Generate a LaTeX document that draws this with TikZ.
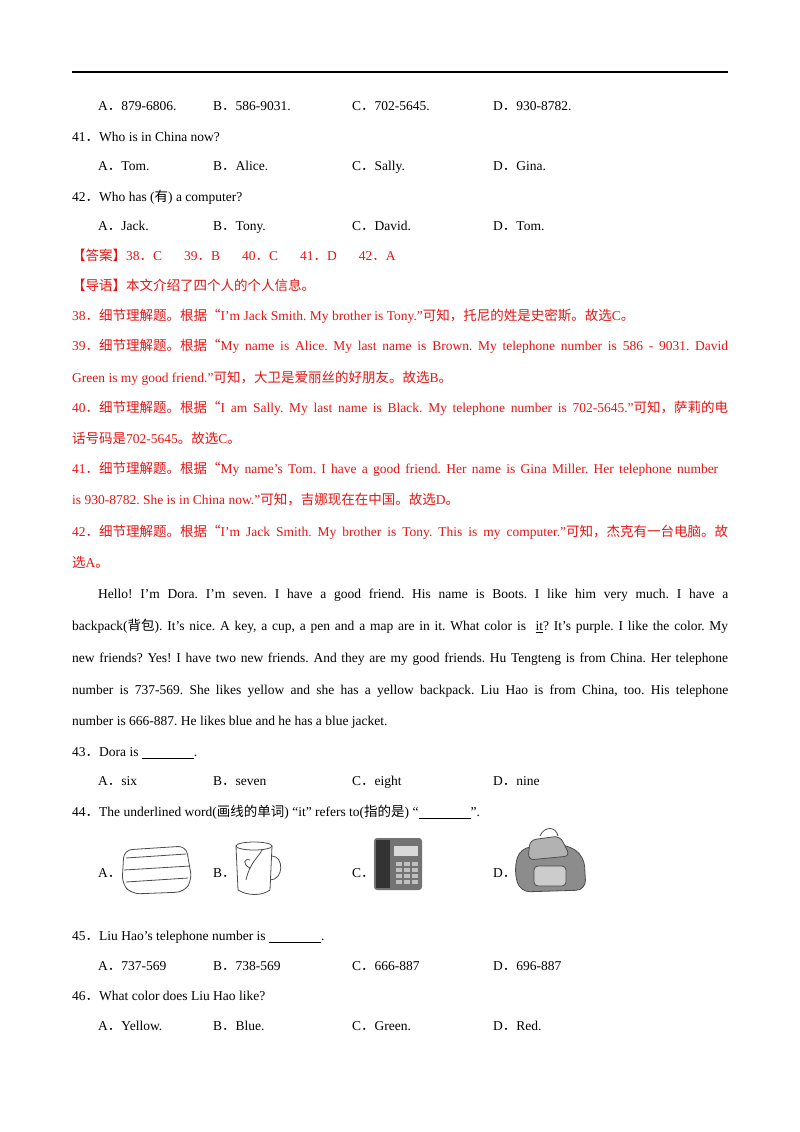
\documentclass[tikz,border=0pt]{standalone}
\usepackage{fontspec}
\setmainfont{Liberation Serif}
\newfontfamily\cjk{Noto Sans CJK SC}
\frenchspacing
\definecolor{ansred}{RGB}{230,20,20}
\newcommand{\dt}{{\cjk ．}}
\newcommand{\jline}[1]{\makebox[656pt][s]{#1}}
\tikzset{
  txt/.style={anchor=base west, inner sep=0pt, yshift=-4.5pt, font=\fontsize{13.5}{16}\selectfont},
  ans/.style={txt, text=ansred},
  pic/.style={line width=0.8pt, draw=black!70}
}
\begin{document}
\begin{tikzpicture}[x=1pt,y=-1pt]
  \useasboundingbox (0,0) rectangle (800,1132);
  \draw[line width=1.6pt] (72,72) -- (728,72);

  % question 40 options
  \node[txt] (o40a) at (98,106) {A\dt 879-6806.};
  \node[txt] (o40b) at (213,106) {B\dt 586-9031.};
  \node[txt] (o40c) at (352,106) {C\dt 702-5645.};
  \node[txt] (o40d) at (493,106) {D\dt 930-8782.};
  \node[txt] (q41) at (72,137) {41\dt Who is in China now?};
  \node[txt] (o41a) at (98,166) {A\dt Tom.};
  \node[txt] (o41b) at (213,166) {B\dt Alice.};
  \node[txt] (o41c) at (352,166) {C\dt Sally.};
  \node[txt] (o41d) at (493,166) {D\dt Gina.};
  \node[txt] (q42) at (72,197) {42\dt Who has ({\cjk 有}) a computer?};
  \node[txt] (o42a) at (98,226) {A\dt Jack.};
  \node[txt] (o42b) at (213,226) {B\dt Tony.};
  \node[txt] (o42c) at (352,226) {C\dt David.};
  \node[txt] (o42d) at (493,226) {D\dt Tom.};

  % answers
  \node[ans] (key) at (72,256) {{\cjk 【答案】}38\dt C\hspace{22pt}39\dt B\hspace{22pt}40\dt C\hspace{22pt}41\dt D\hspace{22pt}42\dt A};
  \node[ans] (guide) at (72,286) {\cjk 【导语】本文介绍了四个人的个人信息。};
  \node[ans] (e38) at (72,316) {38{\cjk ．细节理解题。根据“}I’m Jack Smith. My brother is Tony.”{\cjk 可知，托尼的姓是史密斯。故选}C{\cjk 。}};
  \node[ans] (e39a) at (72,346) {\jline{39{\cjk ．细节理解题。根据“}My name is Alice. My last name is Brown. My telephone number is 586 - 9031. David}};
  \node[ans] (e39b) at (72,378) {Green is my good friend.”{\cjk 可知，大卫是爱丽丝的好朋友。故选}B{\cjk 。}};
  \node[ans] (e40a) at (72,408) {\jline{40{\cjk ．细节理解题。根据“}I am Sally. My last name is Black. My telephone number is 702-5645.”{\cjk 可知，萨莉的电}}};
  \node[ans] (e40b) at (72,439) {{\cjk 话号码是}702-5645{\cjk 。故选}C{\cjk 。}};
  \node[ans] (e41a) at (72,469) {\makebox[646pt][s]{41{\cjk ．细节理解题。根据“}My name’s Tom. I have a good friend. Her name is Gina Miller. Her telephone number}};
  \node[ans] (e41b) at (72,500) {is 930-8782. She is in China now.”{\cjk 可知，吉娜现在在中国。故选}D{\cjk 。}};
  \node[ans] (e42a) at (72,532) {\jline{42{\cjk ．细节理解题。根据“}I’m Jack Smith. My brother is Tony. This is my computer.”{\cjk 可知，杰克有一台电脑。故}}};
  \node[ans] (e42b) at (72,563) {{\cjk 选}A{\cjk 。}};

  % passage
  \node[txt] (p1) at (98,594) {\makebox[630pt][s]{Hello! I’m Dora. I’m seven. I have a good friend. His name is Boots. I like him very much. I have a}};
  \node[txt] (p2) at (72,626) {\jline{backpack({\cjk 背包}). It’s nice. A key, a cup, a pen and a map are in it. What color is \ \underline{it}? It’s purple. I like the color. My}};
  \node[txt] (p3) at (72,658) {\jline{new friends? Yes! I have two new friends. And they are my good friends. Hu Tengteng is from China. Her telephone}};
  \node[txt] (p4) at (72,690) {\jline{number is 737-569. She likes yellow and she has a yellow backpack. Liu Hao is from China, too. His telephone}};
  \node[txt] (p5) at (72,721) {number is 666-887. He likes blue and he has a blue jacket.};

  \node[txt] (q43) at (72,752) {43\dt Dora is \underline{\hspace{52pt}}.};
  \node[txt] (o43a) at (98,781) {A\dt six};
  \node[txt] (o43b) at (213,781) {B\dt seven};
  \node[txt] (o43c) at (352,781) {C\dt eight};
  \node[txt] (o43d) at (493,781) {D\dt nine};
  \node[txt] (q44) at (72,812) {44\dt The underlined word({\cjk 画线的单词}) “it” refers to({\cjk 指的是}) “\underline{\hspace{52pt}}”.};
  \node[txt] (o44a) at (98,873) {A\dt};
  \node[txt] (o44b) at (213,873) {B\dt};
  \node[txt] (o44c) at (352,873) {C\dt};
  \node[txt] (o44d) at (493,873) {D\dt};

  % towel
  \draw[pic, rounded corners=8pt] (124,850) -- (186,846) -- (192,880) -- (184,892) -- (132,894) -- (122,884) -- cycle;
  \draw[pic, rounded corners=6pt] (126,858) -- (186,854);
  \draw[pic, rounded corners=6pt] (124,870) -- (190,866) (126,882) -- (188,878);
  % mug
  \draw[pic] (236,846) -- (238,890) .. controls (248,896) and (262,896) .. (270,890) -- (272,846);
  \draw[pic] (254,846) ellipse (18pt and 4pt);
  \draw[pic] (272,856) .. controls (284,856) and (284,880) .. (270,880);
  \draw[pic] (246,880) .. controls (250,862) and (258,858) .. (262,850);
  \draw[pic] (250,868) .. controls (242,864) and (244,858) .. (250,860);
  % telephone
  \fill[black!55, rounded corners=3pt] (374,838) rectangle (422,890);
  \fill[black!80] (376,840) rectangle (390,888);
  \fill[black!15] (394,846) rectangle (418,856);
  \foreach \i in {0,1,2} {
    \foreach \j in {0,1,2,3} {
      \fill[black!25] (396+\i*8,862+\j*6) rectangle ++(6,4);
    }
  }
  % backpack
  \draw[pic, fill=black!45, rounded corners=10pt] (520,848) -- (566,844) -- (584,856) -- (586,890) -- (520,892) -- (514,870) -- cycle;
  \draw[pic, fill=black!30, rounded corners=6pt] (530,840) -- (560,836) -- (570,856) -- (528,860) -- cycle;
  \draw[pic, fill=black!20, rounded corners=4pt] (534,866) rectangle (566,886);
  \draw[pic] (540,836) .. controls (544,826) and (556,826) .. (558,836);

  \node[txt] (q45) at (72,936) {45\dt Liu Hao’s telephone number is \underline{\hspace{52pt}}.};
  \node[txt] (o45a) at (98,966) {A\dt 737-569};
  \node[txt] (o45b) at (213,966) {B\dt 738-569};
  \node[txt] (o45c) at (352,966) {C\dt 666-887};
  \node[txt] (o45d) at (493,966) {D\dt 696-887};
  \node[txt] (q46) at (72,996) {46\dt What color does Liu Hao like?};
  \node[txt] (o46a) at (98,1026) {A\dt Yellow.};
  \node[txt] (o46b) at (213,1026) {B\dt Blue.};
  \node[txt] (o46c) at (352,1026) {C\dt Green.};
  \node[txt] (o46d) at (493,1026) {D\dt Red.};
\end{tikzpicture}
\end{document}
